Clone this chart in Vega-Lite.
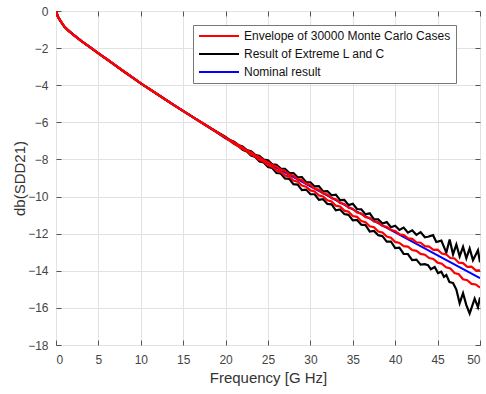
{
"$schema": "https://vega.github.io/schema/vega-lite/v6.json",
"width": 424, "height": 334,
"autosize": {"type": "none"},
"padding": {"left": 56, "top": 11, "right": 6, "bottom": 49},
"background": "white",
"config": {"view": {"stroke": "#555555", "strokeWidth": 1}, "font": "Liberation Sans"},
"datasets": {
"nom": [
{"f":0,"db":0},{"f":0.25,"db":-0.33},{"f":0.5,"db":-0.52},{"f":1,"db":-0.85},{"f":1.5,"db":-1.07},{"f":2,"db":-1.26},{"f":3,"db":-1.62},{"f":4,"db":-1.95},{"f":5,"db":-2.28},{"f":6,"db":-2.6},{"f":7,"db":-2.93},{"f":8,"db":-3.26},{"f":9,"db":-3.58},{"f":10,"db":-3.9},{"f":12,"db":-4.5},{"f":14,"db":-5.1},{"f":16,"db":-5.68},{"f":18,"db":-6.25},{"f":20,"db":-6.82},{"f":22,"db":-7.38},{"f":24,"db":-7.93},{"f":26,"db":-8.45},{"f":28,"db":-8.955},{"f":30,"db":-9.45},{"f":35,"db":-10.688},{"f":40,"db":-11.926},{"f":45,"db":-13.164},{"f":50,"db":-14.402}
],
"ext": [
{"f":0,"db":0,"k":"hi"},{"f":0.25,"db":-0.33,"k":"hi"},{"f":0.5,"db":-0.52,"k":"hi"},{"f":1,"db":-0.85,"k":"hi"},{"f":1.5,"db":-1.07,"k":"hi"},{"f":2,"db":-1.26,"k":"hi"},{"f":3,"db":-1.62,"k":"hi"},{"f":4,"db":-1.95,"k":"hi"},{"f":5,"db":-2.28,"k":"hi"},{"f":6,"db":-2.6,"k":"hi"},{"f":7,"db":-2.93,"k":"hi"},{"f":8,"db":-3.26,"k":"hi"},{"f":9,"db":-3.58,"k":"hi"},{"f":10,"db":-3.9,"k":"hi"},{"f":12,"db":-4.5,"k":"hi"},{"f":14,"db":-5.1,"k":"hi"},{"f":16,"db":-5.68,"k":"hi"},
{"f":18,"db":-6.25,"k":"hi"},{"f":19,"db":-6.515,"k":"hi"},{"f":20,"db":-6.79,"k":"hi"},{"f":20.5,"db":-6.96,"k":"hi"},{"f":21,"db":-7.05,"k":"hi"},{"f":21.5,"db":-7.22,"k":"hi"},{"f":22,"db":-7.3,"k":"hi"},{"f":22.5,"db":-7.49,"k":"hi"},{"f":23,"db":-7.555,"k":"hi"},{"f":23.5,"db":-7.75,"k":"hi"},{"f":24,"db":-7.81,"k":"hi"},{"f":24.5,"db":-8.01,"k":"hi"},{"f":25,"db":-8.04,"k":"hi"},{"f":25.5,"db":-8.26,"k":"hi"},{"f":26,"db":-8.29,"k":"hi"},{"f":26.5,"db":-8.495,"k":"hi"},{"f":27,"db":-8.5,"k":"hi"},{"f":27.5,"db":-8.725,"k":"hi"},{"f":28,"db":-8.735,"k":"hi"},{"f":28.5,"db":-8.959,"k":"hi"},{"f":29,"db":-8.952,"k":"hi"},{"f":29.5,"db":-9.226,"k":"hi"},{"f":30,"db":-9.23,"k":"hi"},{"f":30.5,"db":-9.454,"k":"hi"},{"f":31,"db":-9.438,"k":"hi"},{"f":31.5,"db":-9.721,"k":"hi"},{"f":32,"db":-9.705,"k":"hi"},{"f":32.5,"db":-9.929,"k":"hi"},{"f":33,"db":-9.893,"k":"hi"},{"f":33.5,"db":-10.197,"k":"hi"},{"f":34,"db":-10.18,"k":"hi"},{"f":34.5,"db":-10.464,"k":"hi"},{"f":35,"db":-10.388,"k":"hi"},{"f":35.5,"db":-10.672,"k":"hi"},{"f":36,"db":-10.686,"k":"hi"},{"f":36.5,"db":-10.959,"k":"hi"},{"f":37,"db":-10.903,"k":"hi"},{"f":37.5,"db":-11.227,"k":"hi"},{"f":38,"db":-11.231,"k":"hi"},{"f":38.5,"db":-11.455,"k":"hi"},{"f":39,"db":-11.378,"k":"hi"},{"f":39.5,"db":-11.652,"k":"hi"},{"f":40,"db":-11.576,"k":"hi"},{"f":40.5,"db":-11.8,"k":"hi"},{"f":41,"db":-11.674,"k":"hi"},{"f":41.5,"db":-11.947,"k":"hi"},{"f":42,"db":-11.821,"k":"hi"},{"f":42.5,"db":-12.065,"k":"hi"},{"f":43,"db":-11.919,"k":"hi"},{"f":43.5,"db":-12.193,"k":"hi"},{"f":43.87,"db":-12.164,"k":"hi"},{"f":44.46,"db":-12.08,"k":"hi"},{"f":44.85,"db":-12.447,"k":"hi"},{"f":45.44,"db":-12.373,"k":"hi"},{"f":46.03,"db":-13.019,"k":"hi"},{"f":46.42,"db":-12.316,"k":"hi"},{"f":46.82,"db":-13.115,"k":"hi"},{"f":47.21,"db":-12.581,"k":"hi"},{"f":47.6,"db":-13.218,"k":"hi"},{"f":48,"db":-12.707,"k":"hi"},{"f":48.39,"db":-13.323,"k":"hi"},{"f":48.78,"db":-12.8,"k":"hi"},{"f":49.17,"db":-13.427,"k":"hi"},{"f":49.76,"db":-12.893,"k":"hi"},{"f":50,"db":-13.542,"k":"hi"},
{"f":0,"db":0,"k":"lo"},{"f":0.25,"db":-0.33,"k":"lo"},{"f":0.5,"db":-0.52,"k":"lo"},{"f":1,"db":-0.85,"k":"lo"},{"f":1.5,"db":-1.07,"k":"lo"},{"f":2,"db":-1.26,"k":"lo"},{"f":3,"db":-1.62,"k":"lo"},{"f":4,"db":-1.95,"k":"lo"},{"f":5,"db":-2.28,"k":"lo"},{"f":6,"db":-2.6,"k":"lo"},{"f":7,"db":-2.93,"k":"lo"},{"f":8,"db":-3.26,"k":"lo"},{"f":9,"db":-3.58,"k":"lo"},{"f":10,"db":-3.9,"k":"lo"},{"f":12,"db":-4.5,"k":"lo"},{"f":14,"db":-5.1,"k":"lo"},{"f":16,"db":-5.68,"k":"lo"},
{"f":18,"db":-6.25,"k":"lo"},{"f":19,"db":-6.555,"k":"lo"},{"f":20,"db":-6.86,"k":"lo"},{"f":20.5,"db":-6.98,"k":"lo"},{"f":21,"db":-7.16,"k":"lo"},{"f":21.5,"db":-7.27,"k":"lo"},{"f":22,"db":-7.48,"k":"lo"},{"f":22.5,"db":-7.57,"k":"lo"},{"f":23,"db":-7.795,"k":"lo"},{"f":23.5,"db":-7.87,"k":"lo"},{"f":24,"db":-8.11,"k":"lo"},{"f":24.5,"db":-8.16,"k":"lo"},{"f":25,"db":-8.41,"k":"lo"},{"f":25.5,"db":-8.46,"k":"lo"},{"f":26,"db":-8.73,"k":"lo"},{"f":26.5,"db":-8.755,"k":"lo"},{"f":27,"db":-9.02,"k":"lo"},{"f":27.5,"db":-9.045,"k":"lo"},{"f":28,"db":-9.335,"k":"lo"},{"f":28.5,"db":-9.359,"k":"lo"},{"f":29,"db":-9.652,"k":"lo"},{"f":29.5,"db":-9.626,"k":"lo"},{"f":30,"db":-9.87,"k":"lo"},{"f":30.5,"db":-9.874,"k":"lo"},{"f":31,"db":-10.178,"k":"lo"},{"f":31.5,"db":-10.141,"k":"lo"},{"f":32,"db":-10.395,"k":"lo"},{"f":32.5,"db":-10.419,"k":"lo"},{"f":33,"db":-10.743,"k":"lo"},{"f":33.5,"db":-10.697,"k":"lo"},{"f":34,"db":-10.94,"k":"lo"},{"f":34.5,"db":-10.984,"k":"lo"},{"f":35,"db":-11.288,"k":"lo"},{"f":35.5,"db":-11.262,"k":"lo"},{"f":36,"db":-11.516,"k":"lo"},{"f":36.5,"db":-11.539,"k":"lo"},{"f":37,"db":-11.883,"k":"lo"},{"f":37.5,"db":-11.857,"k":"lo"},{"f":38,"db":-12.081,"k":"lo"},{"f":38.5,"db":-12.135,"k":"lo"},{"f":39,"db":-12.428,"k":"lo"},{"f":39.5,"db":-12.422,"k":"lo"},{"f":40,"db":-12.776,"k":"lo"},{"f":40.5,"db":-12.75,"k":"lo"},{"f":41,"db":-13.094,"k":"lo"},{"f":41.5,"db":-13.097,"k":"lo"},{"f":42,"db":-13.421,"k":"lo"},{"f":42.5,"db":-13.395,"k":"lo"},{"f":43,"db":-13.669,"k":"lo"},{"f":43.5,"db":-13.643,"k":"lo"},{"f":43.87,"db":-13.694,"k":"lo"},{"f":44.2,"db":-13.916,"k":"lo"},{"f":44.66,"db":-13.8,"k":"lo"},{"f":45.05,"db":-14.127,"k":"lo"},{"f":45.44,"db":-14.053,"k":"lo"},{"f":45.75,"db":-14.33,"k":"lo"},{"f":46.03,"db":-14.229,"k":"lo"},{"f":46.4,"db":-14.611,"k":"lo"},{"f":46.82,"db":-14.655,"k":"lo"},{"f":47.21,"db":-15.011,"k":"lo"},{"f":47.6,"db":-15.748,"k":"lo"},{"f":48,"db":-15.207,"k":"lo"},{"f":48.39,"db":-15.853,"k":"lo"},{"f":48.78,"db":-16.3,"k":"lo"},{"f":49.37,"db":-15.506,"k":"lo"},{"f":49.76,"db":-15.963,"k":"lo"},{"f":50,"db":-15.432,"k":"lo"}
],
"env": [
{"f":0,"db":0,"k":"hi"},{"f":0.25,"db":-0.33,"k":"hi"},{"f":0.5,"db":-0.52,"k":"hi"},{"f":1,"db":-0.85,"k":"hi"},{"f":1.5,"db":-1.07,"k":"hi"},{"f":2,"db":-1.26,"k":"hi"},{"f":3,"db":-1.62,"k":"hi"},{"f":4,"db":-1.95,"k":"hi"},{"f":5,"db":-2.28,"k":"hi"},{"f":6,"db":-2.6,"k":"hi"},{"f":7,"db":-2.93,"k":"hi"},{"f":8,"db":-3.26,"k":"hi"},{"f":9,"db":-3.58,"k":"hi"},{"f":10,"db":-3.9,"k":"hi"},{"f":12,"db":-4.5,"k":"hi"},{"f":14,"db":-5.1,"k":"hi"},{"f":16,"db":-5.68,"k":"hi"},
{"f":18,"db":-6.25,"k":"hi"},{"f":20,"db":-6.81,"k":"hi"},{"f":21,"db":-7.08,"k":"hi"},{"f":22,"db":-7.35,"k":"hi"},{"f":22.5,"db":-7.52,"k":"hi"},{"f":23,"db":-7.615,"k":"hi"},{"f":23.5,"db":-7.78,"k":"hi"},{"f":24,"db":-7.88,"k":"hi"},{"f":24.5,"db":-8.04,"k":"hi"},{"f":25,"db":-8.13,"k":"hi"},{"f":25.5,"db":-8.3,"k":"hi"},{"f":26,"db":-8.38,"k":"hi"},{"f":26.5,"db":-8.555,"k":"hi"},{"f":27,"db":-8.62,"k":"hi"},{"f":27.5,"db":-8.805,"k":"hi"},{"f":28,"db":-8.875,"k":"hi"},{"f":28.5,"db":-9.059,"k":"hi"},{"f":29,"db":-9.112,"k":"hi"},{"f":29.5,"db":-9.306,"k":"hi"},{"f":30,"db":-9.37,"k":"hi"},{"f":30.5,"db":-9.574,"k":"hi"},{"f":31,"db":-9.628,"k":"hi"},{"f":31.5,"db":-9.831,"k":"hi"},{"f":32,"db":-9.885,"k":"hi"},{"f":32.5,"db":-10.089,"k":"hi"},{"f":33,"db":-10.143,"k":"hi"},{"f":33.5,"db":-10.347,"k":"hi"},{"f":34,"db":-10.4,"k":"hi"},{"f":34.5,"db":-10.604,"k":"hi"},{"f":35,"db":-10.658,"k":"hi"},{"f":35.5,"db":-10.862,"k":"hi"},{"f":36,"db":-10.916,"k":"hi"},{"f":36.5,"db":-11.109,"k":"hi"},{"f":37,"db":-11.153,"k":"hi"},{"f":37.5,"db":-11.347,"k":"hi"},{"f":38,"db":-11.391,"k":"hi"},{"f":38.5,"db":-11.585,"k":"hi"},{"f":39,"db":-11.628,"k":"hi"},{"f":39.5,"db":-11.802,"k":"hi"},{"f":40,"db":-11.856,"k":"hi"},{"f":40.5,"db":-12.03,"k":"hi"},{"f":41,"db":-12.074,"k":"hi"},{"f":41.5,"db":-12.247,"k":"hi"},{"f":42,"db":-12.281,"k":"hi"},{"f":42.5,"db":-12.465,"k":"hi"},{"f":43,"db":-12.489,"k":"hi"},{"f":43.5,"db":-12.673,"k":"hi"},{"f":44,"db":-12.696,"k":"hi"},{"f":44.5,"db":-12.87,"k":"hi"},{"f":45,"db":-12.864,"k":"hi"},{"f":45.5,"db":-13.068,"k":"hi"},{"f":46,"db":-13.112,"k":"hi"},{"f":46.5,"db":-13.315,"k":"hi"},{"f":47,"db":-13.339,"k":"hi"},{"f":47.5,"db":-13.563,"k":"hi"},{"f":48,"db":-13.587,"k":"hi"},{"f":48.5,"db":-13.791,"k":"hi"},{"f":49,"db":-13.774,"k":"hi"},{"f":49.5,"db":-13.978,"k":"hi"},{"f":50,"db":-13.982,"k":"hi"},
{"f":0,"db":0,"k":"lo"},{"f":0.25,"db":-0.33,"k":"lo"},{"f":0.5,"db":-0.52,"k":"lo"},{"f":1,"db":-0.85,"k":"lo"},{"f":1.5,"db":-1.07,"k":"lo"},{"f":2,"db":-1.26,"k":"lo"},{"f":3,"db":-1.62,"k":"lo"},{"f":4,"db":-1.95,"k":"lo"},{"f":5,"db":-2.28,"k":"lo"},{"f":6,"db":-2.6,"k":"lo"},{"f":7,"db":-2.93,"k":"lo"},{"f":8,"db":-3.26,"k":"lo"},{"f":9,"db":-3.58,"k":"lo"},{"f":10,"db":-3.9,"k":"lo"},{"f":12,"db":-4.5,"k":"lo"},{"f":14,"db":-5.1,"k":"lo"},{"f":16,"db":-5.68,"k":"lo"},
{"f":18,"db":-6.25,"k":"lo"},{"f":20,"db":-6.84,"k":"lo"},{"f":21,"db":-7.14,"k":"lo"},{"f":22,"db":-7.44,"k":"lo"},{"f":22.5,"db":-7.55,"k":"lo"},{"f":23,"db":-7.735,"k":"lo"},{"f":23.5,"db":-7.84,"k":"lo"},{"f":24,"db":-8.03,"k":"lo"},{"f":24.5,"db":-8.12,"k":"lo"},{"f":25,"db":-8.31,"k":"lo"},{"f":25.5,"db":-8.4,"k":"lo"},{"f":26,"db":-8.59,"k":"lo"},{"f":26.5,"db":-8.675,"k":"lo"},{"f":27,"db":-8.86,"k":"lo"},{"f":27.5,"db":-8.935,"k":"lo"},{"f":28,"db":-9.135,"k":"lo"},{"f":28.5,"db":-9.199,"k":"lo"},{"f":29,"db":-9.402,"k":"lo"},{"f":29.5,"db":-9.466,"k":"lo"},{"f":30,"db":-9.67,"k":"lo"},{"f":30.5,"db":-9.724,"k":"lo"},{"f":31,"db":-9.938,"k":"lo"},{"f":31.5,"db":-9.991,"k":"lo"},{"f":32,"db":-10.205,"k":"lo"},{"f":32.5,"db":-10.269,"k":"lo"},{"f":33,"db":-10.493,"k":"lo"},{"f":33.5,"db":-10.537,"k":"lo"},{"f":34,"db":-10.76,"k":"lo"},{"f":34.5,"db":-10.814,"k":"lo"},{"f":35,"db":-11.048,"k":"lo"},{"f":35.5,"db":-11.092,"k":"lo"},{"f":36,"db":-11.316,"k":"lo"},{"f":36.5,"db":-11.379,"k":"lo"},{"f":37,"db":-11.603,"k":"lo"},{"f":37.5,"db":-11.657,"k":"lo"},{"f":38,"db":-11.881,"k":"lo"},{"f":38.5,"db":-11.935,"k":"lo"},{"f":39,"db":-12.158,"k":"lo"},{"f":39.5,"db":-12.222,"k":"lo"},{"f":40,"db":-12.446,"k":"lo"},{"f":40.5,"db":-12.5,"k":"lo"},{"f":41,"db":-12.674,"k":"lo"},{"f":41.5,"db":-12.697,"k":"lo"},{"f":42,"db":-12.881,"k":"lo"},{"f":42.5,"db":-12.925,"k":"lo"},{"f":43,"db":-13.089,"k":"lo"},{"f":43.5,"db":-13.133,"k":"lo"},{"f":44,"db":-13.316,"k":"lo"},{"f":44.5,"db":-13.36,"k":"lo"},{"f":45,"db":-13.564,"k":"lo"},{"f":45.5,"db":-13.618,"k":"lo"},{"f":46,"db":-13.812,"k":"lo"},{"f":46.5,"db":-13.875,"k":"lo"},{"f":47,"db":-14.119,"k":"lo"},{"f":47.5,"db":-14.183,"k":"lo"},{"f":48,"db":-14.457,"k":"lo"},{"f":48.5,"db":-14.511,"k":"lo"},{"f":49,"db":-14.704,"k":"lo"},{"f":49.5,"db":-14.738,"k":"lo"},{"f":50,"db":-14.902,"k":"lo"}
]
},
"layer": [
{
"data": {"name": "ext"},
"mark": {"type": "line", "strokeWidth": 2.2, "clip": true},
"encoding": {
"x": {"field": "f", "type": "quantitative", "scale": {"domain": [0, 50], "nice": false, "zero": false},
 "axis": {"orient": "bottom", "title": "Frequency [G Hz]", "values": [0,5,10,15,20,25,30,35,40,45,50], "grid": true, "gridColor": "#e2e2e2", "domain": false, "tickSize": -5, "tickColor": "#555555", "labelPadding": 14, "labelFontSize": 12, "labelColor": "#444444", "labelFont": "Liberation Sans", "titleFont": "Liberation Sans", "titleFontSize": 15, "titleFontWeight": "normal", "titleColor": "#333333", "titlePadding": 5}},
"y": {"field": "db", "type": "quantitative", "scale": {"domain": [-18, 0], "nice": false, "zero": false},
 "axis": {"orient": "left", "title": "db(SDD21)", "values": [-18,-16,-14,-12,-10,-8,-6,-4,-2,0], "grid": true, "gridColor": "#e2e2e2", "domain": false, "tickSize": -5, "tickColor": "#555555", "labelPadding": 13, "labelFontSize": 12, "labelColor": "#444444", "labelFont": "Liberation Sans", "titleFont": "Liberation Sans", "titleFontSize": 15, "titleFontWeight": "normal", "titleColor": "#333333", "titlePadding": 0}},
"color": {"datum": "Result of Extreme L and C", "type": "nominal",
 "scale": {"domain": ["Envelope of 30000 Monte Carlo Cases", "Result of Extreme L and C", "Nominal result"], "range": ["#ff0000", "#000000", "#0000ff"]},
 "legend": {"orient": "none", "legendX": 137, "legendY": 14, "title": null, "symbolType": "M-1,0H7", "symbolSize": 100, "symbolStrokeWidth": 2, "labelFontSize": 12, "labelFont": "Liberation Sans", "labelColor": "#111111", "labelOffset": 34, "labelLimit": 400, "strokeColor": "#777777", "fillColor": "#ffffff", "padding": 5, "rowPadding": 6}},
"detail": {"field": "k", "type": "nominal"}
}
},
{
"data": {"name": "nom"},
"mark": {"type": "line", "strokeWidth": 2, "clip": true},
"encoding": {
"x": {"field": "f", "type": "quantitative", "axis": {"orient": "top", "title": null, "labels": false, "grid": false, "domain": false, "values": [0,5,10,15,20,25,30,35,40,45,50], "tickSize": -5, "tickColor": "#555555"}},
"y": {"field": "db", "type": "quantitative", "axis": {"orient": "right", "title": null, "labels": false, "grid": false, "domain": false, "values": [-18,-16,-14,-12,-10,-8,-6,-4,-2,0], "tickSize": -5, "tickColor": "#555555"}},
"color": {"datum": "Nominal result", "type": "nominal"}
}
},
{
"data": {"name": "env"},
"mark": {"type": "line", "strokeWidth": 2.2, "clip": true},
"encoding": {
"x": {"field": "f", "type": "quantitative", "axis": null},
"y": {"field": "db", "type": "quantitative", "axis": null},
"color": {"datum": "Envelope of 30000 Monte Carlo Cases", "type": "nominal"},
"detail": {"field": "k", "type": "nominal"}
}
}
],
"resolve": {"axis": {"x": "independent", "y": "independent"}}
}
